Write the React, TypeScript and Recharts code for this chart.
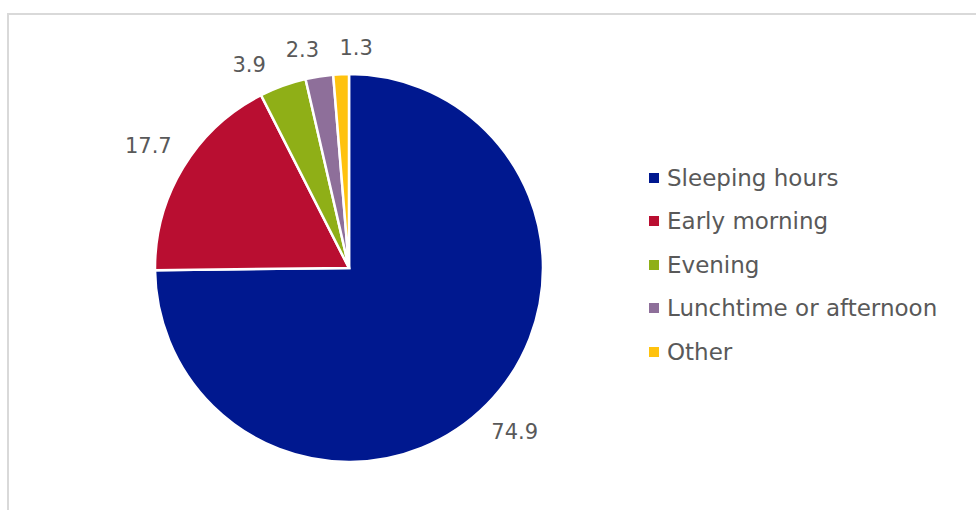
import { PieChart, Pie, Cell, Legend } from "recharts";

// ---------------------------------------------------------------------------
// Data
// ---------------------------------------------------------------------------

const categories = [
  "Sleeping hours",
  "Early morning",
  "Evening",
  "Lunchtime or afternoon",
  "Other",
];
const shares = [74.9, 17.7, 3.9, 2.3, 1.3];
const colors = ["#00188F", "#B90E31", "#8FAF17", "#8E6F9A", "#FFC20E"];

const FONT = "'DejaVu Sans', sans-serif";
const TEXT = "#595959";
const LABEL_SIZE = 21;
const RAD = Math.PI / 180;

const data = categories.map((name, i) => ({ name, value: shares[i] }));

// ---------------------------------------------------------------------------
// Outside-end labels (Excel style), nudged apart where slices are thin
// ---------------------------------------------------------------------------

function placeLabel(cx: number, cy: number, r: number, angle: number, text: string) {
  const cos = Math.cos(-angle * RAD);
  const sin = Math.sin(-angle * RAD);
  const w = text.length * 0.56 * LABEL_SIZE;
  const h = LABEL_SIZE;
  const dist = r + 15 + (Math.abs(cos) * w) / 2 + (Math.abs(sin) * h) / 2;
  return { x: cx + dist * cos, y: cy + dist * sin, w, h };
}

function layoutLabels(cx: number, cy: number, r: number) {
  const total = shares.reduce((a, b) => a + b, 0);
  let acc = 0;
  const angles = shares.map((v) => {
    const start = 90 - (acc / total) * 360;
    acc += v;
    const end = 90 - (acc / total) * 360;
    return (start + end) / 2;
  });
  const texts = shares.map((v) => v.toFixed(1));
  for (let iter = 0; iter < 400; iter++) {
    let moved = false;
    for (let i = 0; i < angles.length - 1; i++) {
      const p = placeLabel(cx, cy, r, angles[i], texts[i]);
      const q = placeLabel(cx, cy, r, angles[i + 1], texts[i + 1]);
      const overlapX = Math.abs(p.x - q.x) < (p.w + q.w) / 2 + 18;
      const overlapY = Math.abs(p.y - q.y) < (p.h + q.h) / 2 + 4;
      if (overlapX && overlapY) {
        angles[i] += 0.25;
        angles[i + 1] -= 0.15;
        moved = true;
      }
    }
    if (!moved) break;
  }
  return angles.map((a, i) => placeLabel(cx, cy, r, a, texts[i]));
}

function renderLabel(props: any) {
  const { cx, cy, outerRadius, index, value } = props;
  const pos = layoutLabels(cx, cy, outerRadius)[index];
  return (
    <text
      x={pos.x}
      y={pos.y}
      fill={TEXT}
      fontSize={LABEL_SIZE}
      fontFamily={FONT}
      textAnchor="middle"
      dominantBaseline="central"
    >
      {Number(value).toFixed(1)}
    </text>
  );
}

function LegendList() {
  return (
    <div style={{ fontFamily: FONT }}>
      {categories.map((name, i) => (
        <div
          key={name}
          style={{ display: "flex", alignItems: "center", height: 43.5 }}
        >
          <span
            style={{
              width: 10,
              height: 10,
              backgroundColor: colors[i],
              marginRight: 8,
              flexShrink: 0,
            }}
          />
          <span style={{ color: TEXT, fontSize: 23, whiteSpace: "nowrap" }}>
            {name}
          </span>
        </div>
      ))}
    </div>
  );
}

export default function App() {
  return (
    <div
      style={{
        position: "absolute",
        left: 0,
        top: 0,
        width: 976,
        height: 510,
        background: "#fff",
        overflow: "hidden",
      }}
    >
      {/* chart area frame */}
      <div
        style={{
          position: "absolute",
          left: 7,
          top: 13,
          width: 1000,
          height: 600,
          borderTop: "2px solid #d9d9d9",
          borderLeft: "2px solid #d9d9d9",
        }}
      />
      <div style={{ position: "absolute", left: 0, top: 0 }}>
        <PieChart
          width={976}
          height={510}
          margin={{ top: 0, right: 0, bottom: 0, left: 0 }}
        >
          <Pie
            data={data}
            dataKey="value"
            nameKey="name"
            cx={349}
            cy={268}
            outerRadius={194}
            startAngle={90}
            endAngle={-270}
            stroke="#fff"
            strokeWidth={2.5}
            label={renderLabel}
            labelLine={false}
            isAnimationActive={false}
          >
            {data.map((d, i) => (
              <Cell key={d.name} fill={colors[i]} />
            ))}
          </Pie>
          <Legend
            content={<LegendList />}
            wrapperStyle={{ left: 649, top: 156, width: 320 }}
          />
        </PieChart>
      </div>
    </div>
  );
}
